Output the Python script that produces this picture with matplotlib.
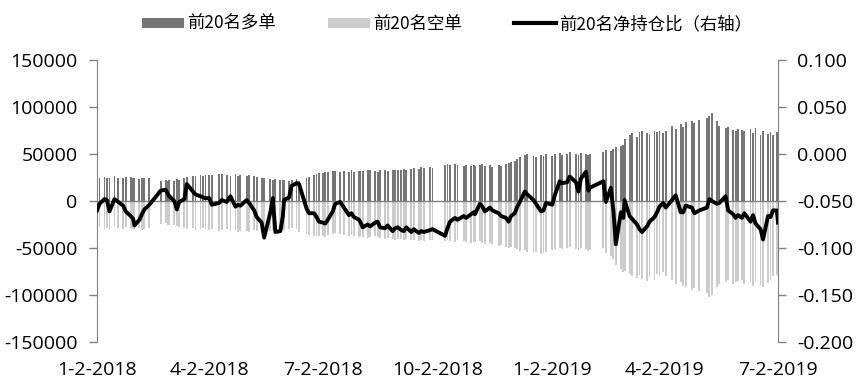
import numpy as np
import pandas as pd
import matplotlib
matplotlib.use("Agg")
import matplotlib.pyplot as plt
from matplotlib.patches import Patch
from matplotlib.lines import Line2D

# ---------------- data ----------------
months = ["2018-01", "2018-02", "2018-03", "2018-04", "2018-05", "2018-06",
          "2018-07", "2018-08", "2018-09", "2018-10", "2018-11", "2018-12",
          "2019-01", "2019-02", "2019-03", "2019-04", "2019-05", "2019-06",
          "2019-07"]

# 前20名多单 (thousand lots)
long_k = [
    [25.5, 24.5, 26, 25, 24, 26.5, 25, 24, 25.5, 26, 24.5],
    [25, 23.5, 24.5, 25, 24, 21, 22, 21.5],
    [22, 21, 23, 22.5, 24, 26, 27, 26.5, 28, 27, 27.5],
    [28, 27.5, 28.5, 29, 28, 27, 28.5, 27, 28],
    [27, 28, 26.5, 26, 25, 24, 23, 22.5, 23, 22, 22.5],
    [22, 21.5, 22, 23, 21, 24, 26, 28, 29, 30],
    [30, 31, 30.5, 31.5, 32, 31, 32, 31, 32.5, 31, 32],
    [32, 31.5, 32.5, 33, 32, 31, 32.5, 33, 32, 33.5, 32.5, 33],
    [33, 34, 33.5, 34, 35, 34.5, 36, 35, 36.5, 35],
    [38, 39, 38, 39.5, 38, 37, 38.5, 37.5, 38],
    [37, 38, 39, 37.5, 38, 36.5, 38, 37, 39, 40, 41],
    [43, 45, 47, 49, 50, 48, 47, 49, 48, 50],
    [48, 50, 51, 49, 50, 52, 50, 49, 51, 50, 49],
    [50, 52, 54, 53, 55, 57, 58, 60],
    [66, 70, 72, 68, 73, 74, 72, 71, 75, 73, 74],
    [72, 75, 80, 77, 82, 79, 84, 85, 83, 86],
    [88, 90, 94, 85, 80, 78, 79, 76, 75, 77],
    [76, 74, 77, 72, 78, 70, 74, 71, 73, 70],
    [73, 71],
]

# 前20名空单 (thousand lots, negative)
short_k = [
    [-29, -28, -30, -29, -31, -28, -29, -30, -28, -29, -30],
    [-30, -29, -31, -30, -29, -24, -23, -25],
    [-25, -26, -27, -28, -29, -30, -29, -31, -30, -29, -30],
    [-31, -30, -32, -31, -30, -32, -31, -33, -32],
    [-32, -33, -31, -32, -33, -34, -32, -31, -33, -32, -31],
    [-31, -30, -29, -30, -33, -35, -36, -37, -38, -37],
    [-37, -38, -36, -35, -34, -35, -36, -37, -36, -37, -38],
    [-37, -38, -39, -38, -37, -38, -39, -40, -39, -40, -41, -40],
    [-40, -41, -40, -42, -41, -43, -42, -43, -42, -41],
    [-43, -42, -43, -44, -42, -43, -44, -45, -44],
    [-44, -43, -45, -46, -45, -46, -48, -47, -49, -50, -49],
    [-50, -51, -53, -52, -54, -55, -54, -56, -55, -54],
    [-52, -51, -50, -51, -50, -49, -51, -52, -50, -51, -53],
    [-52, -50, -55, -58, -62, -68, -72, -75],
    [-74, -78, -80, -82, -79, -83, -85, -81, -84, -78, -80],
    [-76, -80, -84, -88, -86, -90, -92, -95, -93, -96],
    [-98, -102, -100, -92, -88, -86, -84, -88, -86, -85],
    [-84, -88, -86, -90, -85, -89, -92, -87, -84, -80],
    [-79, -78],
]

# 前20名净持仓比 (right axis)
net_ratio = [
    [-0.060, -0.053, -0.048, -0.049, -0.061, -0.048, -0.051, -0.055, -0.061, -0.066, -0.069],
    [-0.076, -0.070, -0.064, -0.059, -0.054, -0.039, -0.038, -0.043],
    [-0.045, -0.050, -0.059, -0.051, -0.048, -0.032, -0.040, -0.043, -0.045, -0.046, -0.047],
    [-0.047, -0.054, -0.052, -0.049, -0.051, -0.045, -0.056, -0.054, -0.055],
    [-0.049, -0.052, -0.060, -0.067, -0.073, -0.089, -0.062, -0.047, -0.083, -0.082, -0.066],
    [-0.049, -0.046, -0.034, -0.031, -0.032, -0.058, -0.063, -0.063, -0.067, -0.072],
    [-0.073, -0.074, -0.070, -0.061, -0.053, -0.051, -0.057, -0.065, -0.063, -0.067, -0.070],
    [-0.072, -0.078, -0.075, -0.077, -0.073, -0.072, -0.078, -0.079, -0.076, -0.082, -0.079, -0.078],
    [-0.081, -0.082, -0.078, -0.083, -0.080, -0.084, -0.082, -0.083, -0.081, -0.080],
    [-0.087, -0.079, -0.072, -0.068, -0.070, -0.066, -0.068, -0.064, -0.062],
    [-0.064, -0.053, -0.056, -0.061, -0.057, -0.060, -0.063, -0.066, -0.068, -0.072, -0.066],
    [-0.063, -0.056, -0.051, -0.040, -0.043, -0.049, -0.053, -0.061, -0.060, -0.052],
    [-0.054, -0.044, -0.029, -0.031, -0.030, -0.024, -0.030, -0.040, -0.026, -0.019, -0.039],
    [-0.036, -0.029, -0.051, -0.036, -0.060, -0.096, -0.062, -0.068],
    [-0.049, -0.066, -0.069, -0.075, -0.080, -0.083, -0.077, -0.072, -0.067, -0.062, -0.056],
    [-0.052, -0.057, -0.049, -0.044, -0.062, -0.062, -0.055, -0.057, -0.063, -0.060],
    [-0.057, -0.048, -0.050, -0.053, -0.052, -0.045, -0.060, -0.064, -0.068, -0.065],
    [-0.068, -0.063, -0.072, -0.065, -0.074, -0.080, -0.091, -0.066, -0.067, -0.060],
    [-0.060, -0.073],
]

exchange_holidays = [
    "2018-02-15", "2018-02-16", "2018-02-19", "2018-02-20", "2018-02-21",
    "2018-04-05", "2018-04-06", "2018-04-30", "2018-05-01", "2018-06-18",
    "2018-09-24", "2018-10-01", "2018-10-02", "2018-10-03", "2018-10-04",
    "2018-10-05", "2018-12-31", "2019-01-01", "2019-02-04", "2019-02-05",
    "2019-02-06", "2019-02-07", "2019-02-08", "2019-04-05", "2019-05-01",
    "2019-05-02", "2019-05-03", "2019-06-07",
]

tick_dates = ["2018-01-02", "2018-04-02", "2018-07-02", "2018-10-02",
              "2019-01-02", "2019-04-02", "2019-07-02"]
tick_labels = ["1-2-2018", "4-2-2018", "7-2-2018", "10-2-2018",
               "1-2-2019", "4-2-2019", "7-2-2019"]
left_ticks = [-150000, -100000, -50000, 0, 50000, 100000, 150000]
right_ticks = [-0.2, -0.15, -0.1, -0.05, 0.0, 0.05, 0.1]

legend_labels = ["前20名多单", "前20名空单", "前20名净持仓比（右轴）"]

# ---------------- assemble dates ----------------
bdays = pd.bdate_range("2018-01-02", "2019-07-02")
tdays = bdays[~bdays.isin(pd.to_datetime(exchange_holidays))]
dates, longs, shorts, ratios = [], [], [], []
for m, lv, sv, rv in zip(months, long_k, short_k, net_ratio):
    md = tdays[tdays.strftime("%Y-%m") == m]
    idx = np.round(np.linspace(0, len(md) - 1, len(lv))).astype(int)
    dates.extend(md[idx])
    longs.extend(np.array(lv) * 1000)
    shorts.extend(np.array(sv) * 1000)
    ratios.extend(rv)
dates = pd.DatetimeIndex(dates)

# ---------------- plot ----------------
W, H = 863, 388
fig = plt.figure(figsize=(W / 100, H / 100), dpi=100)
ax = fig.add_axes([97 / W, 1 - 342 / H, (778 - 97) / W, (342 - 60) / H])
ax2 = ax.twinx()

dark = "#767676"
light = "#cccccc"
axis_grey = "#808080"

ax.bar(dates, longs, width=1.5, color=dark, linewidth=0, zorder=2)
ax.bar(dates, shorts, width=1.5, color=light, linewidth=0, zorder=2)
ax.axhline(0, color=axis_grey, linewidth=1.0, zorder=3)
ax2.plot(dates, ratios, color="black", linewidth=2.8, solid_joinstyle="round", zorder=4)

ax.set_xlim(pd.Timestamp("2018-01-02"), pd.Timestamp("2019-07-02"))
ax.set_ylim(-150000, 150000)
ax.set_yticks(left_ticks)
ax.set_yticklabels([f"{v:d}" for v in left_ticks])
ax2.set_ylim(-0.2, 0.1)
ax2.set_yticks(right_ticks)
ax2.set_yticklabels([f"{v:.3f}" for v in right_ticks])

ax.set_xticks(pd.to_datetime(tick_dates))
ax.set_xticklabels(tick_labels)

tick_family = ["Open Sans", "DejaVu Sans"]
for lab in ax.get_xticklabels() + ax.get_yticklabels() + ax2.get_yticklabels():
    lab.set_fontfamily(tick_family)
    lab.set_fontsize(14)

for a in (ax, ax2):
    for s in ("top", "bottom"):
        a.spines[s].set_visible(False)
    a.spines["left"].set_color(axis_grey)
    a.spines["right"].set_color(axis_grey)
ax2.spines["left"].set_visible(False)
ax.spines["right"].set_visible(False)

ax.tick_params(axis="y", direction="out", length=6, width=1, color=axis_grey, pad=8)
ax2.tick_params(axis="y", direction="out", length=6, width=1, color=axis_grey, pad=8)
ax.tick_params(axis="x", length=0, pad=14)

handles = [Patch(facecolor=dark, edgecolor="none"),
           Patch(facecolor=light, edgecolor="none"),
           Line2D([0], [0], color="black", linewidth=3)]
fig.legend(handles, legend_labels, loc="center", bbox_to_anchor=(0.518, 1 - 24 / H),
           ncol=3, frameon=False, handlelength=2.4, handleheight=0.5,
           handletextpad=0.2, columnspacing=3.0,
           prop=dict(family=["Noto Sans CJK SC", "DejaVu Sans"], size=12.5))

fig.savefig("out.png", dpi=100)
